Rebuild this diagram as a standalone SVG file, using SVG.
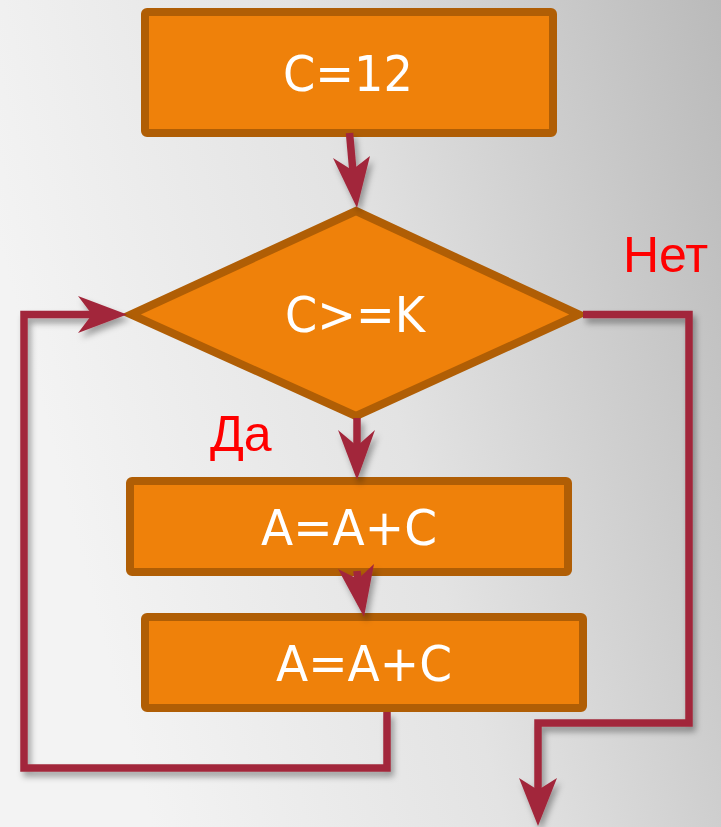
<svg xmlns="http://www.w3.org/2000/svg" width="721" height="827" viewBox="0 0 721 827">
<defs>
<linearGradient id="bg" x1="0" y1="0.3" x2="1" y2="0">
<stop offset="0" stop-color="#f3f3f3"/>
<stop offset="0.45" stop-color="#e3e3e3"/>
<stop offset="1" stop-color="#bababa"/>
</linearGradient>
<filter id="sh" x="-20%" y="-20%" width="140%" height="140%">
<feDropShadow dx="3" dy="5" stdDeviation="3" flood-color="#000" flood-opacity="0.35"/>
</filter>
<style>
.box{fill:#ef810a;stroke:#b05e05;stroke-width:8;stroke-linejoin:round}
.dia{fill:#ef810a;stroke:#b05e05;stroke-width:8;stroke-linejoin:miter}
.t{fill:#ffffff;font-family:"DejaVu Sans",Verdana,sans-serif;font-size:50px;text-anchor:middle}
.lbl{fill:#ff0000;font-family:"Liberation Sans",Arial,sans-serif}
.ln{fill:none;stroke:#a2283b;stroke-width:7.5;stroke-linejoin:miter}
.hd{fill:#a2283b}
</style>
</defs>
<rect x="0" y="0" width="721" height="827" fill="url(#bg)"/>

<g id="start">
<rect class="box" x="145" y="12" width="408" height="121" rx="2"/>
<text class="t" x="348" y="91" textLength="130" lengthAdjust="spacingAndGlyphs">C=12</text>
</g>

<g id="cond">
<polygon class="dia" points="356,211 579,314.5 356,416 131,314.5"/>
<text class="t" x="355" y="332" textLength="140" lengthAdjust="spacingAndGlyphs">C&gt;=K</text>
</g>

<g id="step1">
<rect class="box" x="130" y="481" width="438" height="91" rx="2"/>
<text class="t" x="349" y="545" textLength="176" lengthAdjust="spacingAndGlyphs">A=A+C</text>
</g>

<g id="step2">
<rect class="box" x="145" y="617" width="438" height="91" rx="2"/>
<text class="t" x="364" y="681" textLength="176" lengthAdjust="spacingAndGlyphs">A=A+C</text>
</g>

<g id="labels">
<text class="lbl" x="210" y="451" font-size="50">Да</text>
<text class="lbl" x="623" y="272" font-size="50">Нет</text>
</g>

<g id="connectors" filter="url(#sh)">
<path class="ln" d="M349.5 133 L353 172"/>
<polygon class="hd" points="333,158 352,170 370,156 357,208"/>
<path class="ln" d="M357 418 L357 448"/>
<polygon class="hd" points="338,430 357,446 375,430 357,480"/>
<path class="ln" d="M357 571 L358 582"/>
<polygon class="hd" points="338,569 358,579 374,564 364,617"/>
<path class="ln" d="M583 314.5 H689 V723 H538 V790"/>
<polygon class="hd" points="519,778 538,790 557,778 538,826"/>
<path class="ln" d="M387 712 V768 H24 V314.5 H92"/>
<polygon class="hd" points="78,296 92,314.5 78,333 127,314.5"/>
</g>
</svg>
